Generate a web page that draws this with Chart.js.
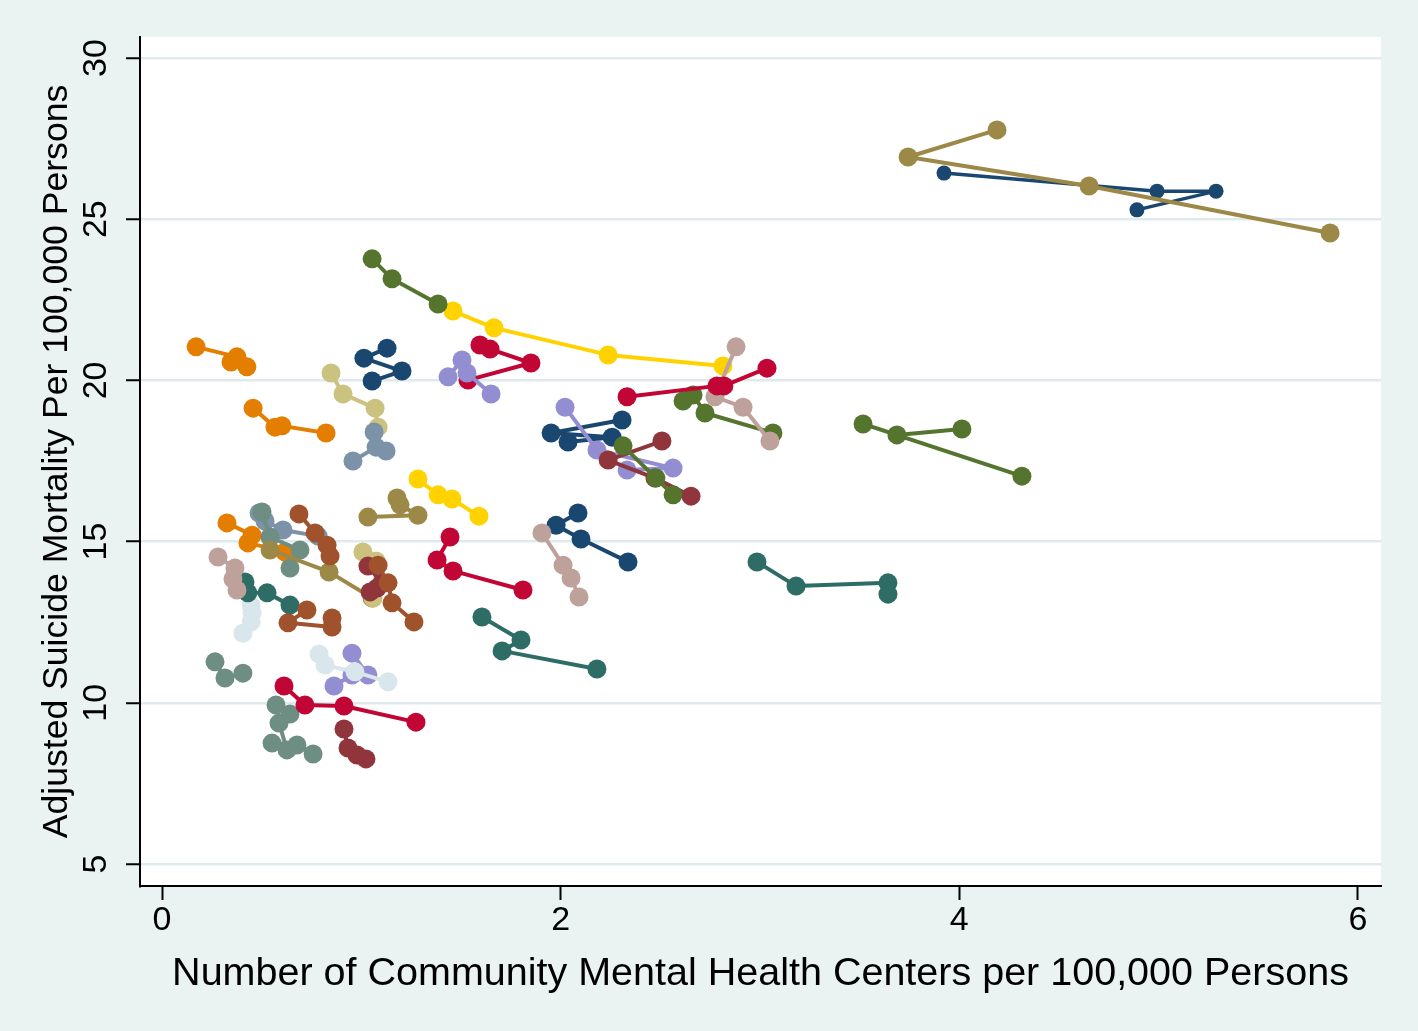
<!DOCTYPE html>
<html>
<head>
<meta charset="utf-8">
<script src="https://cdn.jsdelivr.net/npm/chart.js@4/dist/chart.umd.min.js"></script>
<style>
  html, body { margin: 0; padding: 0; background: #eaf2f2; }
  #wrap { width: 1418px; height: 1031px; }
</style>
</head>
<body>
<div id="wrap"><canvas id="c" width="1418" height="1031"></canvas></div>
<script>
// ---- Data ----
const xAxisTitle = "Number of Community Mental Health Centers per 100,000 Persons";
const yAxisTitle = "Adjusted Suicide Mortality Per 100,000 Persons";
const xTicks = [0, 2, 4, 6];
const yTicks = [5, 10, 15, 20, 25, 30];

// Stata s2color palette
const palette = {
  navy: "#1a476f", maroon: "#90353b", forest: "#55752f", dkorange: "#e37e00",
  teal: "#6e8e84", cranberry: "#c10534", lavender: "#938dd2", khaki: "#cac27e",
  sienna: "#a0522d", emidblue: "#7b92a8", emerald: "#2d6d66", brown: "#9c8847",
  erose: "#bfa19c", gold: "#ffd200", bluishgray: "#d9e6eb"
};

// One entry per connected group (country), drawn in this order (later on top)
const seriesColor = [
  "teal", "maroon", "cranberry", "lavender", "bluishgray", "teal",
  "bluishgray", "emerald", "erose", "dkorange", "emidblue", "teal", "brown",
  "khaki", "sienna", "sienna", "maroon", "sienna", "dkorange", "khaki",
  "navy", "emidblue", "cranberry", "lavender", "gold", "forest",
  "brown", "cranberry", "gold", "emerald", "navy", "erose",
  "emerald", "navy", "lavender", "maroon", "forest", "forest",
  "erose", "cranberry", "dkorange", "forest", "navy", "brown"
];
const seriesX = [
  [0.572, 0.642, 0.587, 0.627, 0.552, 0.677, 0.758],
  [0.913, 0.933, 0.978, 1.023],
  [0.612, 0.717, 0.913, 1.274],
  [0.953, 1.033, 0.953, 0.863],
  [0.788, 0.818, 0.968, 1.134],
  [0.266, 0.316, 0.406],
  [0.447, 0.452, 0.447, 0.406],
  [0.416, 0.431, 0.527, 0.642],
  [0.281, 0.366, 0.356, 0.376],
  [0.326, 0.452, 0.431, 0.617],
  [0.487, 0.517, 0.607, 0.783],
  [0.502, 0.542, 0.692, 0.642],
  [0.542, 0.838, 1.054],
  [1.008, 1.074, 1.069, 1.059],
  [0.727, 0.632, 0.853, 0.853],
  [0.687, 0.768, 0.828, 0.843],
  [1.033, 1.104, 1.079, 1.044],
  [1.084, 1.134, 1.154, 1.264],
  [0.457, 0.567, 0.602, 0.823],
  [0.848, 0.908, 1.069, 1.084],
  [1.129, 1.013, 1.204, 1.054],
  [0.958, 1.074, 1.124, 1.064],
  [1.595, 1.646, 1.851, 1.535],
  [1.435, 1.505, 1.530, 1.651],
  [1.460, 1.666, 2.238, 2.814],
  [1.054, 1.154, 1.385],
  [1.179, 1.194, 1.284, 1.033],
  [1.445, 1.380, 1.460, 1.811],
  [1.284, 1.385, 1.455, 1.590],
  [1.605, 1.801, 1.706, 2.182],
  [2.087, 1.977, 2.102, 2.338],
  [1.906, 2.012, 2.052, 2.092],
  [2.985, 3.181, 3.642, 3.642],
  [2.308, 1.952, 2.258, 2.037],
  [2.022, 2.182, 2.564, 2.333],
  [2.508, 2.238, 2.473, 2.654],
  [2.313, 2.478, 2.564],
  [2.614, 2.664, 2.724, 3.065],
  [2.880, 2.774, 2.915, 3.050],
  [2.333, 2.784, 2.819, 3.035],
  [0.171, 0.376, 0.346, 0.426],
  [4.013, 3.687, 3.517, 4.314],
  [3.923, 4.992, 5.288, 4.891],
  [4.189, 3.743, 4.651, 5.860]
];
const seriesY = [
  [9.93, 9.65, 9.37, 8.54, 8.75, 8.69, 8.41],
  [9.19, 8.60, 8.38, 8.26],
  [10.52, 9.93, 9.90, 9.40],
  [11.54, 10.86, 10.86, 10.52],
  [11.51, 11.17, 10.96, 10.65],
  [11.27, 10.77, 10.92],
  [13.03, 12.79, 12.51, 12.16],
  [13.75, 13.41, 13.41, 13.03],
  [14.52, 14.18, 13.84, 13.50],
  [15.58, 15.20, 14.96, 14.68],
  [15.89, 15.64, 15.36, 15.17],
  [15.92, 15.14, 14.74, 14.18],
  [14.74, 14.06, 13.25],
  [14.68, 14.40, 13.50, 13.25],
  [12.88, 12.48, 12.35, 12.63],
  [15.86, 15.27, 14.89, 14.55],
  [14.24, 13.72, 13.56, 13.44],
  [14.27, 13.72, 13.10, 12.51],
  [19.14, 18.55, 18.59, 18.37],
  [20.23, 19.58, 19.14, 18.55],
  [21.00, 20.69, 20.29, 19.98],
  [17.50, 17.93, 17.81, 18.40],
  [21.10, 20.97, 20.54, 20.01],
  [20.11, 20.63, 20.23, 19.58],
  [22.15, 21.63, 20.79, 20.45],
  [23.77, 23.15, 22.37],
  [16.35, 16.14, 15.82, 15.76],
  [15.14, 14.43, 14.09, 13.50],
  [16.94, 16.45, 16.32, 15.79],
  [12.66, 11.95, 11.61, 11.05],
  [15.89, 15.51, 15.08, 14.37],
  [15.27, 14.27, 13.87, 13.28],
  [14.37, 13.62, 13.72, 13.37],
  [18.77, 18.37, 18.24, 18.09],
  [19.17, 17.84, 17.28, 17.22],
  [18.12, 17.53, 16.97, 16.41],
  [17.97, 16.97, 16.45],
  [19.36, 19.55, 18.99, 18.37],
  [21.04, 19.49, 19.17, 18.12],
  [19.49, 19.83, 19.83, 20.38],
  [21.04, 20.73, 20.57, 20.42],
  [18.49, 18.31, 18.65, 17.03],
  [26.43, 25.87, 25.87, 25.29],
  [27.77, 26.93, 26.03, 24.57]
];
// index of the small-marker series (top right navy)
const smallSeries = [42];

// ---- Build chart ----
const datasets = seriesX.map((xs, i) => {
  const c = palette[seriesColor[i]];
  const small = smallSeries.includes(i);
  return {
    data: xs.map((x, j) => ({ x: x, y: seriesY[i][j] })),
    showLine: true,
    borderColor: c,
    backgroundColor: c,
    pointBackgroundColor: c,
    pointBorderColor: c,
    pointBorderWidth: 0,
    pointRadius: small ? 7.5 : 9.5,
    borderWidth: small ? 3.5 : 4,
    borderJoinStyle: "round",
    borderCapStyle: "round",
    order: -i
  };
});

const bgPlugin = {
  id: "bg",
  beforeDraw(chart) {
    const ctx = chart.ctx;
    const a = chart.chartArea;
    ctx.save();
    ctx.fillStyle = "#eaf2f2";
    ctx.fillRect(0, 0, chart.width, chart.height);
    ctx.fillStyle = "#ffffff";
    ctx.fillRect(a.left, a.top, a.right - a.left, a.bottom - a.top);
    ctx.restore();
  }
};

const FONT = "'Liberation Sans', Arial, Helvetica, sans-serif";

new Chart(document.getElementById("c"), {
  type: "scatter",
  data: { datasets },
  plugins: [bgPlugin],
  options: {
    responsive: false,
    animation: false,
    events: [],
    layout: { padding: { top: 37, right: 37, left: 0, bottom: 0 } },
    plugins: { legend: { display: false }, tooltip: { enabled: false } },
    scales: {
      x: {
        type: "linear",
        min: -0.1104,
        max: 6.1155,
        afterBuildTicks(scale) { scale.ticks = xTicks.map(v => ({ value: v })); },
        afterFit(scale) { scale.height = 145; },
        grid: {
          color: "rgba(0,0,0,0)",
          drawOnChartArea: false,
          tickColor: "#000",
          tickLength: 14,
          tickWidth: 2
        },
        border: { display: true, color: "#000", width: 2 },
        ticks: {
          color: "#000",
          font: { family: FONT, size: 34 },
          padding: 0,
          maxRotation: 0,
          minRotation: 0
        },
        title: {
          display: true,
          text: xAxisTitle,
          color: "#000",
          font: { family: FONT, size: 39.5 },
          padding: { top: 0, bottom: 33 }
        }
      },
      y: {
        type: "linear",
        min: 4.318,
        max: 30.651,
        afterBuildTicks(scale) { scale.ticks = yTicks.map(v => ({ value: v })); },
        afterFit(scale) { scale.width = 140; },
        grid: {
          color: "#dfeaed",
          lineWidth: 2.5,
          tickColor: "#000",
          tickLength: 14,
          tickWidth: 2
        },
        border: { display: true, color: "#000", width: 2 },
        ticks: {
          color: "#000",
          font: { family: FONT, size: 34 },
          padding: 10.5,
          crossAlign: "center",
          minRotation: 90,
          maxRotation: 90
        },
        title: {
          display: true,
          text: yAxisTitle,
          color: "#000",
          font: { family: FONT, size: 35.6 },
          padding: { top: 36, bottom: 0 }
        }
      }
    }
  }
});
</script>
</body>
</html>
